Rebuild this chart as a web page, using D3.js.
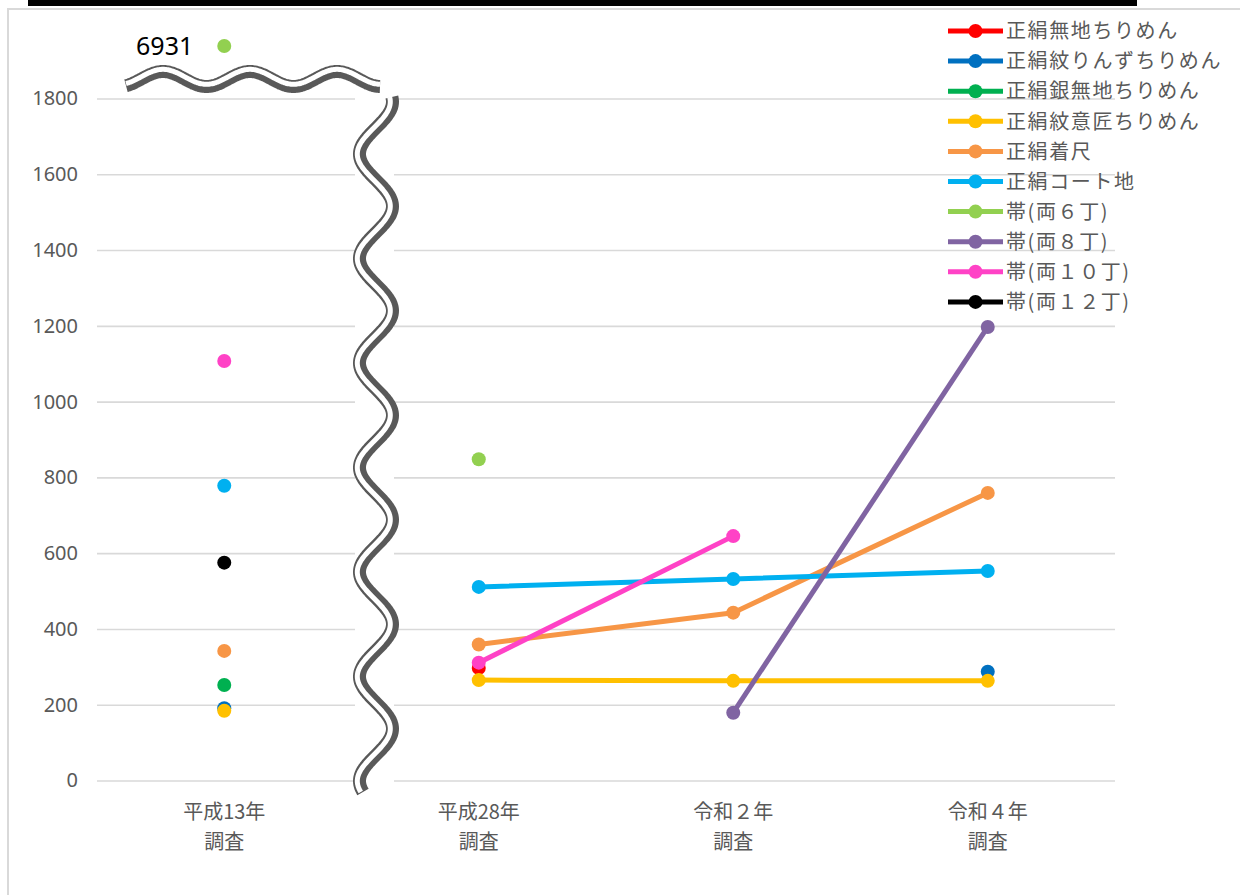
<!DOCTYPE html>
<html>
<head>
<meta charset="utf-8">
<script src="https://cdn.jsdelivr.net/npm/d3@7"></script>
<style>
  html, body { margin: 0; padding: 0; background: #fff; }
  svg { display: block; }
</style>
</head>
<body>
<svg id="chart" width="1240" height="895"></svg>
<script>
// Survey rounds (two-line category labels)
const surveys = [["平成13年", "調査"], ["平成28年", "調査"], ["令和２年", "調査"], ["令和４年", "調査"]];

// Prices per item; null = not surveyed in that round
const mujiChirimen   = [null, 297, null, null];
const rinzuChirimen  = [191, null, null, 287];
const ginMujiChirimen = [252, null, null, null];
const monIshoChirimen = [184, 265, 263, 263];
const kijaku         = [342, 359, 443, 759];
const coatJi         = [778, 511, 532, 553];
const obi6           = [6931, 848, null, null];
const obi8           = [null, null, 179, 1197];
const obi10          = [1107, 311, 645, null];
const obi12          = [575, null, null, null];

const seriesNames = ["正絹無地ちりめん", "正絹紋りんずちりめん", "正絹銀無地ちりめん", "正絹紋意匠ちりめん",
  "正絹着尺", "正絹コート地", "帯(両６丁)", "帯(両８丁)", "帯(両１０丁)", "帯(両１２丁)"];
const seriesValues = [mujiChirimen, rinzuChirimen, ginMujiChirimen, monIshoChirimen,
  kijaku, coatJi, obi6, obi8, obi10, obi12];
const seriesColors = ["#FF0000", "#0070C0", "#00B050", "#FFC000", "#F79646",
  "#00B0F0", "#92D050", "#8064A2", "#FF42C6", "#000000"];

const yTicks = [0, 200, 400, 600, 800, 1000, 1200, 1400, 1600, 1800];
// value shown above the axis break
const breakTop = 6931;

const svg = d3.select("#chart");
const plot = { left: 97, right: 1115, top: 98.5, bottom: 780.5 };
const grey = "#595959";
const jpFont = "'Noto Sans CJK JP', 'Noto Sans', sans-serif";

// outer frame and top bar
svg.append("rect").attr("x", 8).attr("y", 9).attr("width", 1260).attr("height", 900)
  .attr("fill", "none").attr("stroke", "#d9d9d9").attr("stroke-width", 2);
svg.append("rect").attr("x", 28).attr("y", 0).attr("width", 1109).attr("height", 6).attr("fill", "#000");

const x = d3.scaleBand().domain(d3.range(surveys.length)).range([plot.left, plot.right]).padding(0);
const cx = i => x(i) + x.bandwidth() / 2;
// broken scale: 0–1800 is linear, above 1800 jumps to the break area
const y = d3.scaleLinear().domain([0, 1800, breakTop]).range([plot.bottom, plot.top, 46]);

// gridlines
svg.append("g")
  .attr("transform", `translate(${plot.left},0)`)
  .call(d3.axisLeft(y).tickValues(yTicks).tickSize(-(plot.right - plot.left)).tickFormat(""))
  .call(g => g.select(".domain").remove())
  .call(g => g.selectAll(".tick line").attr("stroke", "#d9d9d9").attr("stroke-width", 1.6));

// y labels
svg.append("g")
  .attr("transform", `translate(78,0)`)
  .call(d3.axisLeft(y).tickValues(yTicks).tickSize(0).tickPadding(0).tickFormat(d3.format("d")))
  .call(g => g.select(".domain").remove())
  .call(g => g.selectAll(".tick text")
    .attr("fill", grey).attr("font-size", 20).attr("font-family", "'Noto Sans', sans-serif"));

// category labels
const xAxis = svg.append("g")
  .attr("transform", `translate(0,${plot.bottom})`)
  .call(d3.axisBottom(x).tickSize(0).tickFormat(""))
  .call(g => g.select(".domain").remove());
xAxis.selectAll(".tick").each(function (i) {
  const t = d3.select(this).append("text")
    .attr("fill", grey).attr("font-size", 20).attr("font-family", jpFont)
    .attr("text-anchor", "middle");
  surveys[i].forEach((line, k) => {
    t.append("tspan").attr("x", 0).attr("y", 38 + k * 30).text(line);
  });
});

// axis break symbols: white mask, dark double wave
const dark = grey;
svg.append("rect").attr("x", 355).attr("y", 92).attr("width", 39).attr("height", 705).attr("fill", "#fff");

const vWave = d3.range(97, 792.5, 1).map(yy => [376 - 16.5 * Math.cos(2 * Math.PI * (yy - 154) / 104.5), yy]);
const hWave = d3.range(126, 380.5, 1).map(xx => [xx, 79 - 7.5 * Math.cos(2 * Math.PI * (xx - 163) / 87)]);
const waveLine = d3.line().curve(d3.curveBasis);

function drawBreak(pts, dx, dy) {
  svg.append("path").attr("d", waveLine(pts)).attr("fill", "none")
    .attr("stroke", dark).attr("stroke-width", 13).attr("stroke-linecap", "butt");
  svg.append("path").attr("d", waveLine(pts)).attr("fill", "none")
    .attr("transform", `translate(${dx},${dy})`)
    .attr("stroke", "#fff").attr("stroke-width", 5).attr("stroke-linecap", "butt");
}
drawBreak(hWave, 0, -2.2);
drawBreak(vWave, -2.2, 0);

// series: lines connect only the rounds after the break
const line = d3.line()
  .defined(d => d.v != null && d.i > 0)
  .x(d => cx(d.i))
  .y(d => y(d.v));

seriesValues.forEach((vals, s) => {
  const pts = vals.map((v, i) => ({ i, v }));
  const g = svg.append("g");
  g.append("path").attr("d", line(pts)).attr("fill", "none")
    .attr("stroke", seriesColors[s]).attr("stroke-width", 5).attr("stroke-linejoin", "round");
  g.selectAll("circle").data(pts.filter(d => d.v != null)).join("circle")
    .attr("cx", d => cx(d.i)).attr("cy", d => y(d.v)).attr("r", 7)
    .attr("fill", seriesColors[s]);
});

// value label for the point above the break
svg.append("text")
  .attr("x", cx(0) - 31).attr("y", y(obi6[0]) + 9)
  .attr("text-anchor", "end")
  .attr("font-size", 25).attr("font-family", "'Noto Sans', sans-serif").attr("fill", "#000")
  .text(obi6[0]);

// legend
const legend = svg.append("g").attr("transform", "translate(948,31)");
seriesNames.forEach((name, s) => {
  const row = legend.append("g").attr("transform", `translate(0,${s * 30.1})`);
  row.append("line").attr("x1", 0).attr("x2", 55).attr("y1", 0).attr("y2", 0)
    .attr("stroke", seriesColors[s]).attr("stroke-width", 5);
  row.append("circle").attr("cx", 27.5).attr("cy", 0).attr("r", 7).attr("fill", seriesColors[s]);
  row.append("text").attr("x", 58).attr("y", 0).attr("dy", "0.36em")
    .attr("font-size", 20).attr("letter-spacing", 1.6)
    .attr("font-family", jpFont).attr("fill", grey).text(name);
});
</script>
</body>
</html>
